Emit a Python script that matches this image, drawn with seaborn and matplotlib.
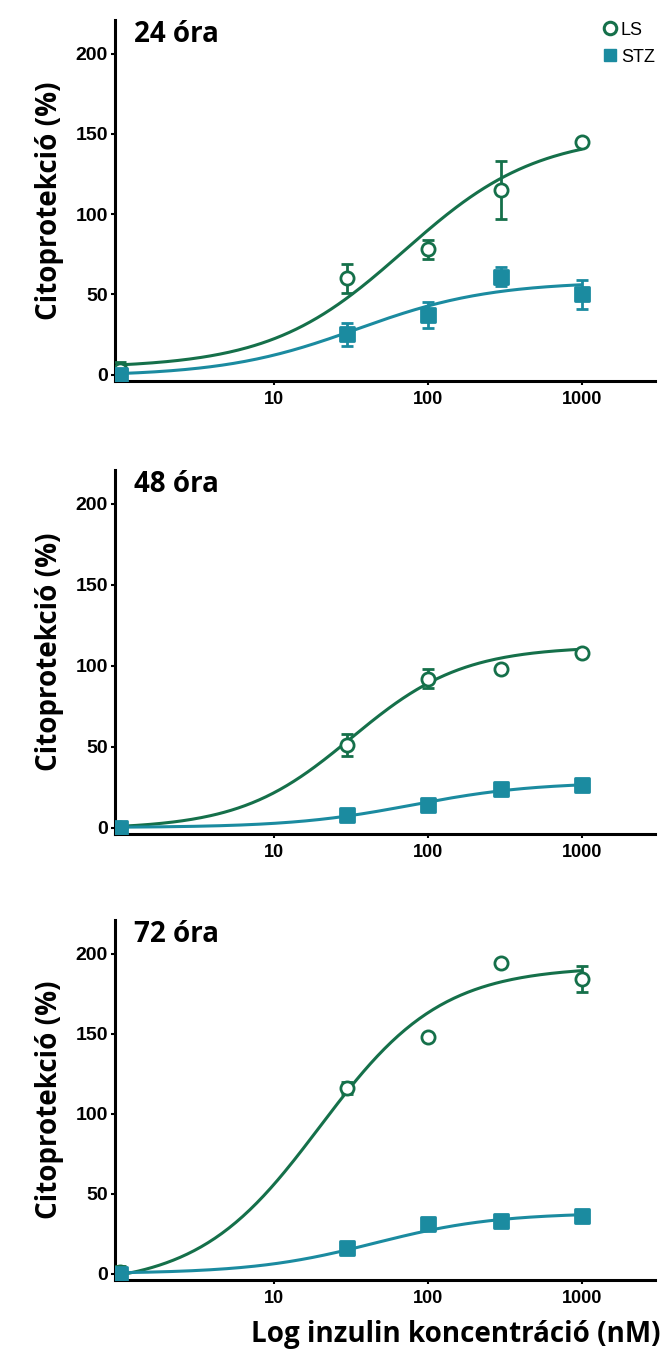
import numpy as np
import pandas as pd
import matplotlib
matplotlib.use("Agg")
import matplotlib.pyplot as plt
from matplotlib import font_manager
from matplotlib.lines import Line2D
import seaborn as sns

# ---------------- data ----------------
doses = [1, 30, 100, 300, 1000]          # nM (1 = control position)
xticks = [10, 100, 1000]
xticklabels = ["10", "100", "1000"]
yticks = [0, 50, 100, 150, 200]
panel_titles = ["24 óra", "48 óra", "72 óra"]
series = ["LS", "STZ"]

ls_mean = [[3, 60, 78, 115, 145],
           [0, 51, 92, 98, 108],
           [1, 116, 148, 194, 184]]
ls_err = [[5, 9, 6, 18, 2],
          [2, 7, 6, 2, 2],
          [4, 4, 2, 2, 8]]
stz_mean = [[0, 25, 37, 61, 50],
            [0, 8, 14, 24, 26],
            [0, 16, 31, 33, 36]]
stz_err = [[3, 7, 8, 6, 9],
           [2, 2, 2, 2, 2],
           [3, 3, 4, 2, 2]]

# fitted 4PL parameters: bottom, top, EC50, hill
ls_fit = [[4, 150, 70, 1.0],
          [-1, 112, 32, 1.2],
          [-8, 192, 20, 1.1]]
stz_fit = [[-1, 58, 35, 1.0],
           [0, 28, 80, 1.1],
           [0, 38, 45, 1.1]]

GREEN = "#15704a"
TEAL = "#1b8ba0"

# ---------------- fonts ----------------
avail = {f.name for f in font_manager.fontManager.ttflist}
narrow = "Liberation Sans Narrow" if "Liberation Sans Narrow" in avail else "Liberation Sans"
labfont = "Open Sans"

sns.set_theme(style="ticks")
plt.rcParams["font.family"] = ["Liberation Sans", "DejaVu Sans"]
plt.rcParams["text.color"] = "black"
plt.rcParams["axes.labelcolor"] = "black"
plt.rcParams["xtick.color"] = "black"
plt.rcParams["ytick.color"] = "black"

W, H = 664, 1358
fig = plt.figure(figsize=(W / 100, H / 100), dpi=100)

panels_px = [(20, 381), (470, 834), (920, 1280)]
left_px, right_px = 115, 655


def fourpl(x, p):
    b, t, ec, h = p
    return b + (t - b) / (1 + (ec / x) ** h)


xs = np.logspace(0, 3, 200)

for i, (top, bot) in enumerate(panels_px):
    ax = fig.add_axes([left_px / W, 1 - bot / H, (right_px - left_px) / W, (bot - top) / H])
    ax.set_xscale("log")

    for mean, err, fit, col, mk, face in [
        (ls_mean[i], ls_err[i], ls_fit[i], GREEN, "o", "white"),
        (stz_mean[i], stz_err[i], stz_fit[i], TEAL, "s", TEAL),
    ]:
        curve = pd.DataFrame({"x": xs, "y": fourpl(xs, fit)})
        sns.lineplot(data=curve, x="x", y="y", ax=ax, color=col, lw=2.2, zorder=2)
        ax.errorbar(doses, mean, yerr=err, fmt="none", ecolor=col, elinewidth=2.0,
                    capsize=4.5, capthick=2.0, zorder=3)
        pts = pd.DataFrame({"x": doses, "y": mean})
        sns.scatterplot(data=pts, x="x", y="y", ax=ax, marker=mk, s=90,
                        facecolor=face, edgecolor=col, linewidth=2.0, zorder=4)

    ax.set_xlim(0.93, 3000)
    ax.set_ylim(-4, 221)
    ax.set_xticks(xticks)
    ax.set_xticklabels(xticklabels)
    ax.xaxis.set_minor_locator(matplotlib.ticker.NullLocator())
    ax.set_yticks(yticks)
    for lab in ax.get_xticklabels():
        lab.set_fontfamily(["Liberation Sans", "DejaVu Sans"])
        lab.set_fontweight("bold")
        lab.set_fontsize(13)
    for lab in ax.get_yticklabels():
        lab.set_fontfamily([narrow, "DejaVu Sans"])
        lab.set_fontweight("bold")
        lab.set_fontsize(14)
    ax.tick_params(axis="both", length=3, width=1.5, color="black", labelcolor="black", pad=2)
    ax.tick_params(axis="x", pad=4)
    for s in ["left", "bottom"]:
        ax.spines[s].set_linewidth(2.2)
        ax.spines[s].set_color("black")
    sns.despine(ax=ax)
    ax.set_xlabel("")
    ax.set_ylabel("Citoprotekció (%)", fontsize=20, fontweight="bold", color="black",
                  family=[labfont, "DejaVu Sans"], labelpad=8)
    ax.text(0.035, 1.0, panel_titles[i], transform=ax.transAxes, ha="left", va="top",
            fontsize=20, fontweight="bold", color="black", family=[labfont, "DejaVu Sans"])
    if i == 2:
        ax.set_xlabel("Log inzulin koncentráció (nM)", fontsize=20, fontweight="bold",
                      color="black", family=[labfont, "DejaVu Sans"], labelpad=4)
        ax.xaxis.set_label_coords(1.01, -0.11)
        ax.xaxis.label.set_ha("right")
    if i == 0:
        handles = [Line2D([], [], marker="o", ls="none", mfc="white", mec=GREEN, mew=2.2, ms=9),
                   Line2D([], [], marker="s", ls="none", mfc=TEAL, mec=TEAL, ms=9)]
        leg = ax.legend(handles, series, loc="upper right", bbox_to_anchor=(1.03, 1.04),
                        frameon=False, fontsize=13, handletextpad=0.1, labelspacing=0.55,
                        handlelength=1.0)
        for t in leg.get_texts():
            t.set_fontfamily(["Liberation Sans", "DejaVu Sans"])
            t.set_color("black")

fig.savefig("out.png", dpi=100)
